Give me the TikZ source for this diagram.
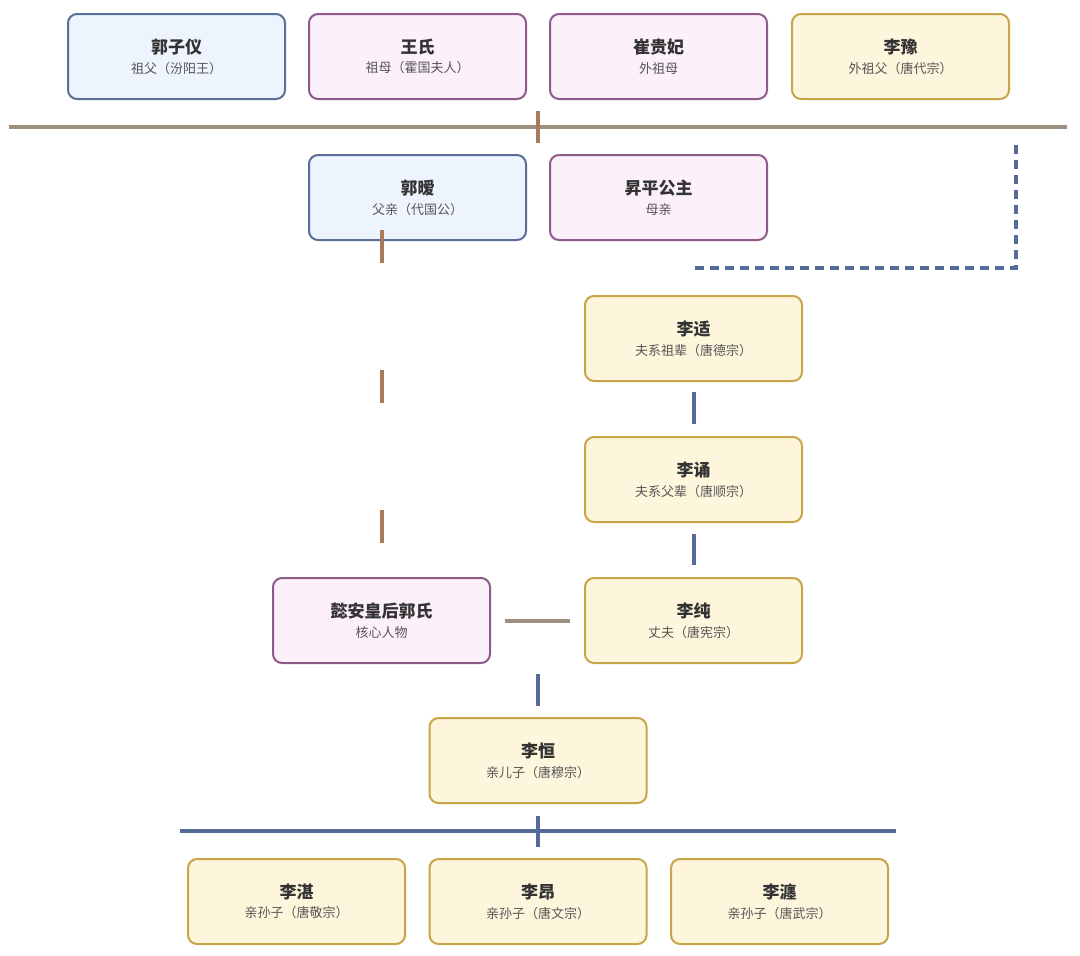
\documentclass[tikz,border=0pt]{standalone}
\usepackage{fontspec}
\setmainfont{Noto Sans CJK SC}
\definecolor{bfill}{HTML}{EEF4FD}\definecolor{bdraw}{HTML}{5A6E96}
\definecolor{pfill}{HTML}{FCF0FB}\definecolor{pdraw}{HTML}{8E5A8A}
\definecolor{yfill}{HTML}{FEF6DC}\definecolor{ydraw}{HTML}{C7A548}
\definecolor{lblue}{HTML}{566A99}\definecolor{lbrown}{HTML}{A87A5A}\definecolor{lgray}{HTML}{9E9080}
\definecolor{txt}{HTML}{333333}\definecolor{sub}{HTML}{555555}
\begin{document}
\begin{tikzpicture}[x=1pt,y=-1pt,
  box/.style={rounded corners=9pt,line width=2pt,minimum width=217pt,minimum height=85pt,align=center,text=txt},
  B/.style={box,fill=bfill,draw=bdraw},P/.style={box,fill=pfill,draw=pdraw},Y/.style={box,fill=yfill,draw=ydraw},
  ln/.style={line width=4pt}]
\useasboundingbox[fill=white] (0,0) rectangle (1080,956);
\newcommand{\lab}[2]{{\fontsize{17}{22}\selectfont\bfseries #1}\\[6pt]{\fontsize{13}{16}\selectfont\color{sub}#2}}
\node[B] (gzy) at (176.5,56.5) {\lab{郭子仪}{祖父（汾阳王）}};
\node[P] (ws) at (417.5,56.5) {\lab{王氏}{祖母（霍国夫人）}};
\node[P] (cgf) at (658.5,56.5) {\lab{崔贵妃}{外祖母}};
\node[Y] (ly) at (900.5,56.5) {\lab{李豫}{外祖父（唐代宗）}};
\node[B] (ga) at (417.5,197.5) {\lab{郭暧}{父亲（代国公）}};
\node[P] (sp) at (658.5,197.5) {\lab{昇平公主}{母亲}};
\node[Y] (lk) at (693.5,338.5) {\lab{李适}{夫系祖辈（唐德宗）}};
\node[Y] (lsong) at (693.5,479.5) {\lab{李诵}{夫系父辈（唐顺宗）}};
\node[Y] (lc) at (693.5,620.5) {\lab{李纯}{丈夫（唐宪宗）}};
\node[P] (ya) at (381.5,620.5) {\lab{懿安皇后郭氏}{核心人物}};
\node[Y] (lh) at (538,760.5) {\lab{李恒}{亲儿子（唐穆宗）}};
\node[Y] (lz) at (296.5,901.5) {\lab{李湛}{亲孙子（唐敬宗）}};
\node[Y] (la) at (538,901.5) {\lab{李昂}{亲孙子（唐文宗）}};
\node[Y] (lyan) at (779.5,901.5) {\lab{李瀍}{亲孙子（唐武宗）}};
\coordinate (h1l) at (9,127); \coordinate (h1r) at (1067,127);
\draw[ln,lgray] (h1l) -- (h1r);
\coordinate (t1a) at (538,111); \coordinate (t1b) at (538,143);
\draw[ln,lbrown] (t1a) -- (t1b);
\coordinate (d1) at (1016,145); \coordinate (d2) at (1016,268); \coordinate (d3) at (695,268);
\draw[ln,lblue,dash pattern=on 9pt off 6pt] (d1) -- (d2) -- (d3);
\draw[ln,lbrown,dash pattern=on 33pt off 107pt] ([yshift=11pt]ga.south -| 382,0) -- ([yshift=-11pt]ya.north -| 382,0);
\draw[ln,lblue,shorten <=11pt,shorten >=12pt] (lk) ++(0,42.5) -- ([xshift=0pt]lsong.north);
\draw[ln,lblue,shorten <=11pt,shorten >=12pt] (lsong.south) -- (lc.north);
\draw[ln,lgray,shorten <=14pt,shorten >=14pt] (ya.east) -- (lc.west);
\draw[ln,lblue,shorten <=11pt,shorten >=11pt] (538,663) -- (lh.north);
\coordinate (h2l) at (180,831); \coordinate (h2r) at (896,831);
\draw[ln,lblue] (h2l) -- (h2r);
\draw[ln,lblue,shorten <=12pt,shorten >=11pt] (lh.south) -- (la.north);
\end{tikzpicture}
\end{document}
